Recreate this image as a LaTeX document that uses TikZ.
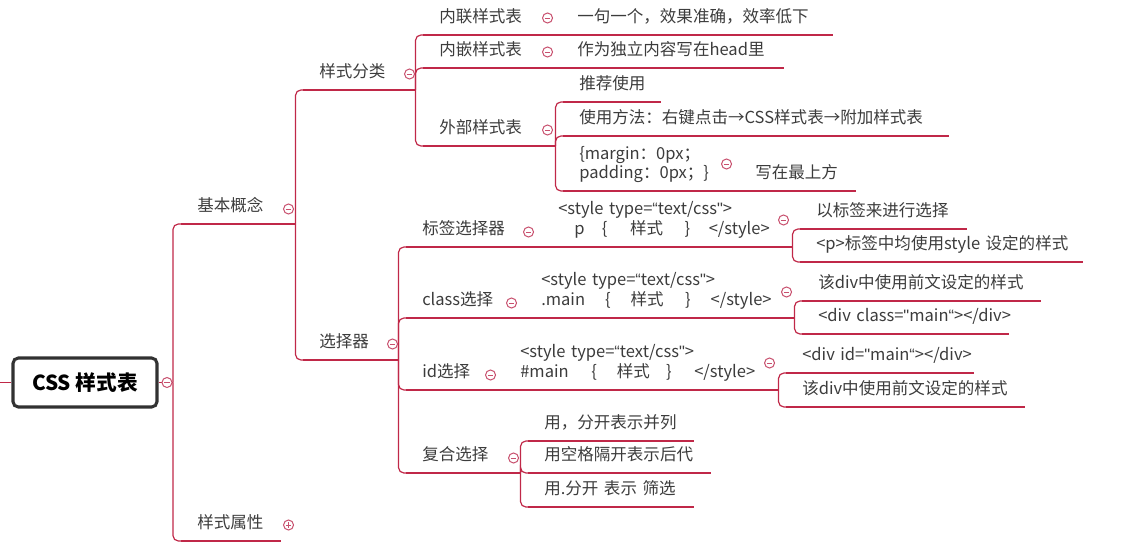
\documentclass[tikz,border=0pt]{standalone}
\usepackage{fontspec}
\setmainfont{Noto Sans CJK SC}
\newfontfamily\qfont{Liberation Sans}

\definecolor{linec}{RGB}{192,40,72}
\definecolor{foldc}{RGB}{200,80,110}
\definecolor{textc}{RGB}{60,60,60}
\definecolor{rootc}{RGB}{50,50,50}

\tikzset{
    br/.style={draw=linec, line width=0.9pt, rounded corners=4pt},
    topic/.style={anchor=south west, inner xsep=0pt, inner ysep=9.4pt,
        text depth=0pt, align=left, text width={#1*0.75pt}, text=textc,
        font={\fontsize{12.4pt}{14.3pt}\selectfont},
        execute at begin node={\hspace*{12pt}},
        append after command={(\tikzlastnode.south west) edge[br] (\tikzlastnode.south east)}},
    rootbox/.style={draw=rootc, line width=2.3pt, rounded corners=4pt, fill=white,
        minimum width=144*0.75pt, minimum height=49*0.75pt, text=black,
        font={\bfseries\fontsize{15.5pt}{18pt}\selectfont}},
    fold/.style={circle, draw=foldc, line width=0.75pt, fill=white, inner sep=0pt,
        minimum size=7.5pt,
        path picture={\draw[foldc, line width=0.7pt]
            ([xshift=-2pt]path picture bounding box.center) -- ([xshift=2pt]path picture bounding box.center);}},
    foldplus/.style={fold,
        path picture={\draw[foldc, line width=0.7pt]
            ([xshift=-2pt]path picture bounding box.center) -- ([xshift=2pt]path picture bounding box.center)
            ([yshift=-2pt]path picture bounding box.center) -- ([yshift=2pt]path picture bounding box.center);}}
}

\begin{document}
\begin{tikzpicture}[x=0.75pt, y=-0.75pt]
\useasboundingbox (0,0) rectangle (1137,549);

% root
\node[rootbox] (root) at (85,382.5) {CSS 样式表};
\coordinate (edge-l) at (0,382.5);
\coordinate (root-j) at (173,382.5);

% level 2
\node[topic=114] (jbgn) at (181,224) {基本概念};
\node[topic=99] (yssx) at (181,541) {样式属性};

% basic concepts
\node[topic=112] (ysfl) at (303,90) {样式分类};
\node[topic=95] (xzq) at (303,360) {选择器};

% style sheet kinds
\node[topic=132] (nlys) at (423,35) {内联样式表};
\node[topic=271] (nl1) at (561,35) {一句一个，效果准确，效率低下};
\node[topic=132] (nqys) at (423,68) {内嵌样式表};
\node[topic=222] (nq1) at (561,68) {作为独立内容写在head里};
\node[topic=132] (wbys) at (423,146) {外部样式表};
\node[topic=97] (wb1) at (563,102) {推荐使用};
\node[topic=385] (wb2) at (563,136) {使用方法：右键点击→CSS样式表→附加样式表};
\node[topic=170] (wb3) at (563,191)
    {\begin{tabular}[b]{@{}l@{}}\{margin：0px；\\padding：0px；\}\end{tabular}};
\node[topic=116] (wb3a) at (739,191) {写在最上方};

% selectors
\node[topic=130] (bqxz) at (406,247) {标签选择器};
\node[topic=250] (bqc) at (542,247)
    {\begin{tabular}[b]{@{}l@{}}<style type={\qfont“}text/css{\qfont"}>\\
     \hspace*{12pt}p\hspace{13pt}\{\hspace{17pt}样式\hspace{16pt}\}\hspace{14pt}</style>\end{tabular}};
\node[topic=166] (bq1) at (800,229) {以标签来进行选择};
\node[topic=282] (bq2) at (800,262) {<p>标签中均使用style 设定的样式};

\node[topic=113] (clxz) at (406,318) {class选择};
\node[topic=269] (clc) at (525,318)
    {\begin{tabular}[b]{@{}l@{}}<style type={\qfont“}text/css{\qfont"}>\\
     .main\hspace{15pt}\{\hspace{15pt}样式\hspace{16pt}\}\hspace{15pt}</style>\end{tabular}};
\node[topic=238] (cl1) at (802,301) {该div中使用前文设定的样式};
\node[topic=206] (cl2) at (802,334) {\mbox{<div class={\qfont"}main{\qfont“}></div>}};

\node[topic=92] (idxz) at (406,390) {id选择};
\node[topic=274] (idc) at (504,390)
    {\begin{tabular}[b]{@{}l@{}}<style type={\qfont“}text/css{\qfont"}>\\
     \#main\hspace{17pt}\{\hspace{15pt}样式\hspace{12pt}\}\hspace{17pt}</style>\end{tabular}};
\node[topic=187] (id1) at (786,373) {\mbox{<div id={\qfont"}main{\qfont“}></div>}};
\node[topic=238] (id2) at (786,407) {该div中使用前文设定的样式};

\node[topic=114] (fhxz) at (406,473) {复合选择};
\node[topic=165] (fh1) at (528,441) {用，分开表示并列};
\node[topic=182] (fh2) at (528,473) {用空格隔开表示后代};
\node[topic=165] (fh3) at (528,507) {用.分开 表示 筛选};

% connectors
\draw[br] (edge-l) -- (root.west);
\draw[br] (root.east) -- (root-j);
\draw[br] (root-j) |- (jbgn.south west);
\draw[br] (root-j) |- (yssx.south west);

\draw[br] (jbgn.south east) |- (ysfl.south west);
\draw[br] (jbgn.south east) |- (xzq.south west);

\draw[br] (ysfl.south east) |- (nlys.south west);
\draw[br] (ysfl.south east) |- (nqys.south west);
\draw[br] (ysfl.south east) |- (wbys.south west);
\draw[br] (nlys.south east) -- (nl1.south west);
\draw[br] (nqys.south east) -- (nq1.south west);
\draw[br] (wbys.south east) |- (wb1.south west);
\draw[br] (wbys.south east) |- (wb2.south west);
\draw[br] (wbys.south east) |- (wb3.south west);
\draw[br] (wb3.south east) -- (wb3a.south west);

\draw[br] (xzq.south east) |- (bqxz.south west);
\draw[br] (xzq.south east) |- (clxz.south west);
\draw[br] (xzq.south east) |- (idxz.south west);
\draw[br] (xzq.south east) |- (fhxz.south west);
\draw[br] (bqxz.south east) -- (bqc.south west);
\draw[br] (bqc.south east) |- (bq1.south west);
\draw[br] (bqc.south east) |- (bq2.south west);
\draw[br] (clxz.south east) -- (clc.south west);
\draw[br] (clc.south east) |- (cl1.south west);
\draw[br] (clc.south east) |- (cl2.south west);
\draw[br] (idxz.south east) -- (idc.south west);
\draw[br] (idc.south east) |- (id1.south west);
\draw[br] (idc.south east) |- (id2.south west);
\draw[br] (fhxz.south east) |- (fh1.south west);
\draw[br] (fhxz.south east) |- (fh2.south west);
\draw[br] (fhxz.south east) |- (fh3.south west);

% fold markers
\node[fold] (root-f) at (167,382.5) {};
\node[fold] (jbgn-f) at ([shift={(-7,-15)}]jbgn.south east) {};
\node[foldplus] (yssx-f) at ([shift={(8,-16)}]yssx.south east) {};
\node[fold] (ysfl-f) at ([shift={(-6,-16)}]ysfl.south east) {};
\node[fold] (xzq-f) at ([shift={(-6,-16)}]xzq.south east) {};
\node[fold] (nlys-f) at ([shift={(-8,-17)}]nlys.south east) {};
\node[fold] (nqys-f) at ([shift={(-8,-16)}]nqys.south east) {};
\node[fold] (wbys-f) at ([shift={(-8,-16)}]wbys.south east) {};
\node[fold] (wb3-f) at ([shift={(-7,-27)}]wb3.south east) {};
\node[fold] (bqxz-f) at ([shift={(-8,-15)}]bqxz.south east) {};
\node[fold] (bqc-f) at ([shift={(-9,-27)}]bqc.south east) {};
\node[fold] (clxz-f) at ([shift={(-8,-15)}]clxz.south east) {};
\node[fold] (clc-f) at ([shift={(-8,-26)}]clc.south east) {};
\node[fold] (idxz-f) at ([shift={(-8,-15)}]idxz.south east) {};
\node[fold] (idc-f) at ([shift={(-9,-27)}]idc.south east) {};
\node[fold] (fhxz-f) at ([shift={(-7,-15)}]fhxz.south east) {};
\end{tikzpicture}
\end{document}
